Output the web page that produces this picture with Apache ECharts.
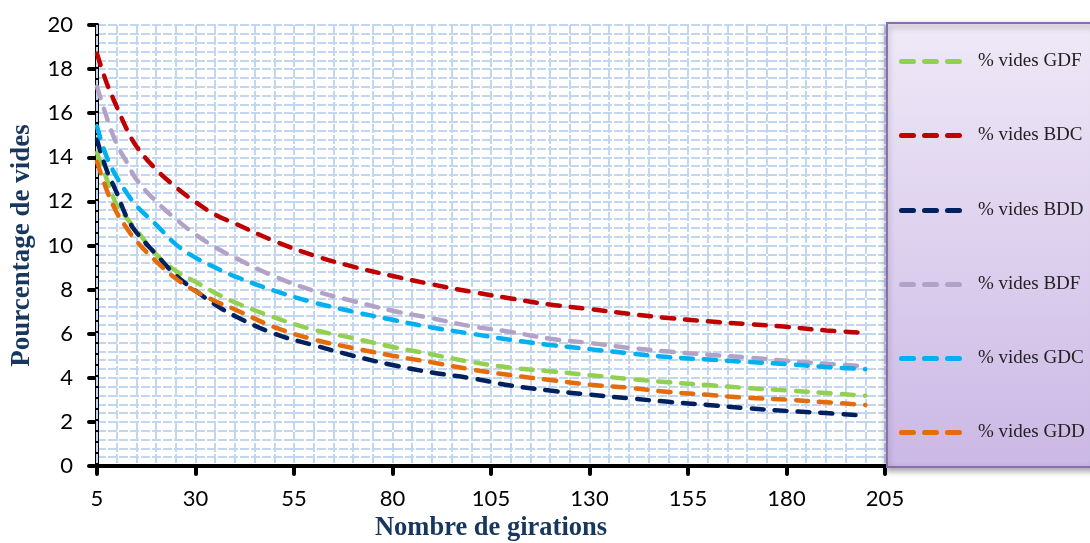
<!DOCTYPE html>
<html>
<head>
<meta charset="utf-8">
<script src="https://cdn.jsdelivr.net/npm/echarts@6/dist/echarts.min.js"></script>
<style>
html,body{margin:0;padding:0;background:#fff;}
#chart{width:1090px;height:543px;}
</style>
</head>
<body>
<div id="chart"></div>
<script>
// Number of gyrations (x values)
const girations = [5, 7.5, 10, 12.5, 15, 20, 25, 30, 35, 40, 50, 60, 70, 80, 90, 100, 110, 120, 130, 140, 150, 160, 170, 180, 190, 200];

// Void percentages
const videsGDF = [14.2, 13.0, 11.85, 11.25, 10.7, 9.6, 8.85, 8.35, 7.85, 7.42, 6.74, 6.18, 5.8, 5.4, 5.06, 4.72, 4.46, 4.3, 4.12, 3.95, 3.8, 3.67, 3.54, 3.43, 3.31, 3.19];
const videsBDC = [18.7, 17.35, 16.3, 15.3, 14.5, 13.45, 12.65, 11.97, 11.4, 11.0, 10.2, 9.55, 9.04, 8.62, 8.24, 7.9, 7.6, 7.32, 7.12, 6.9, 6.71, 6.56, 6.44, 6.31, 6.15, 6.04];
const videsBDD = [14.8, 13.4, 12.4, 11.3, 10.6, 9.6, 8.65, 7.95, 7.32, 6.8, 6.0, 5.48, 5.0, 4.58, 4.24, 3.98, 3.65, 3.42, 3.24, 3.07, 2.91, 2.77, 2.62, 2.5, 2.4, 2.28];
const videsBDF = [17.2, 15.8, 14.6, 13.8, 13.0, 12.0, 11.2, 10.5, 9.92, 9.45, 8.6, 7.95, 7.48, 7.04, 6.7, 6.34, 6.08, 5.77, 5.58, 5.36, 5.19, 5.05, 4.92, 4.77, 4.64, 4.52];
const videsGDC = [15.4, 14.0, 13.1, 12.4, 11.8, 10.95, 10.05, 9.45, 9.0, 8.6, 7.95, 7.42, 7.0, 6.63, 6.28, 6.0, 5.72, 5.49, 5.3, 5.11, 4.94, 4.83, 4.72, 4.62, 4.49, 4.39];
const videsGDD = [13.8, 12.5, 11.5, 10.8, 10.2, 9.28, 8.5, 7.93, 7.48, 7.1, 6.3, 5.74, 5.35, 5.0, 4.7, 4.38, 4.12, 3.9, 3.69, 3.55, 3.36, 3.23, 3.09, 3.01, 2.89, 2.77];

const seriesNames = ['% vides GDF', '% vides BDC', '% vides BDD', '% vides BDF', '% vides GDC', '% vides GDD'];
const seriesValues = [videsGDF, videsBDC, videsBDD, videsBDF, videsGDC, videsGDD];
const seriesColors = ['#92d050', '#c00000', '#002060', '#b3a2c7', '#00b0f0', '#e46c0a'];

const xTickLabels = [5, 30, 55, 80, 105, 130, 155, 180, 205];

const gridLine = { show: true, lineStyle: { color: '#c3d6ef', width: 2, type: [9, 2] } };
const dashIcon = 'path://M2.5,0 L14.5,0 A2.5,2.5 0 0 1 14.5,5 L2.5,5 A2.5,2.5 0 0 1 2.5,0 Z M25.5,0 L37.5,0 A2.5,2.5 0 0 1 37.5,5 L25.5,5 A2.5,2.5 0 0 1 25.5,0 Z M48.5,0 L60.5,0 A2.5,2.5 0 0 1 60.5,5 L48.5,5 A2.5,2.5 0 0 1 48.5,0 Z';
const legendCenters = [60, 134, 209, 283, 357, 431];

const chart = echarts.init(document.getElementById('chart'));
chart.setOption({
  backgroundColor: '#ffffff',
  animation: false,
  graphic: [{
    type: 'rect',
    shape: { x: 887, y: 23, width: 210, height: 444 },
    style: {
      fill: new echarts.graphic.LinearGradient(0, 0, 0, 1, [
        { offset: 0, color: '#efe9f7' },
        { offset: 1, color: '#cbb8e5' }
      ]),
      stroke: '#8a6fb0',
      lineWidth: 2,
      shadowBlur: 6,
      shadowOffsetY: 3,
      shadowColor: 'rgba(0,0,0,0.35)'
    },
    z: 5
  }],
  grid: { left: 97, right: 205, top: 25, bottom: 77, containLabel: false, outerBoundsMode: 'none' },
  legend: seriesNames.map((name, i) => ({
    orient: 'vertical',
    left: 899,
    top: legendCenters[i] - 8,
    padding: 0,
    itemWidth: 63,
    itemHeight: 5,
    icon: dashIcon,
    z: 10,
    textStyle: { fontFamily: 'Liberation Serif', fontSize: 19, color: '#222', padding: [0, 0, 0, 11] },
    data: [name]
  })),
  xAxis: [{
    type: 'value',
    min: 5,
    max: 205,
    interval: 5,
    axisLine: { show: true, lineStyle: { color: '#000', width: 4, cap: 'round' } },
    axisTick: { show: true, customValues: xTickLabels, length: 8, lineStyle: { color: '#000', width: 4, cap: 'round' } },
    axisLabel: { customValues: xTickLabels, margin: 22, color: '#000', fontFamily: 'Lato', fontSize: 22 },
    splitLine: { show: false },
    name: 'Nombre de girations',
    nameLocation: 'middle',
    nameGap: 48,
    nameTextStyle: { fontFamily: 'Liberation Serif', fontWeight: 'bold', fontSize: 26.5, color: '#17375e' },
    z: 3
  }, {
    type: 'value',
    min: 5,
    max: 205,
    interval: 5,
    position: 'bottom',
    axisLine: { show: false },
    axisTick: { show: false },
    axisLabel: { show: false },
    splitLine: gridLine,
    z: 1
  }],
  yAxis: {
    type: 'value',
    min: 0,
    max: 20,
    interval: 2,
    axisLine: { show: true, lineStyle: { color: '#000', width: 4, cap: 'round' } },
    axisTick: { show: true, length: 8, lineStyle: { color: '#000', width: 4, cap: 'round' } },
    axisLabel: { margin: 24, color: '#000', fontFamily: 'Lato', fontSize: 22 },
    minorTick: { show: false, splitNumber: 5 },
    splitLine: gridLine,
    minorSplitLine: gridLine,
    name: 'Pourcentage de vides',
    nameLocation: 'middle',
    nameGap: 61,
    nameTextStyle: { fontFamily: 'Liberation Serif', fontWeight: 'bold', fontSize: 27, color: '#17375e' }
  },
  series: seriesNames.map((name, i) => ({
    name: name,
    type: 'line',
    xAxisIndex: 0,
    smooth: 0.4,
    symbol: 'none',
    color: seriesColors[i],
    lineStyle: { color: seriesColors[i], width: 4.5, type: [12, 11], cap: 'round' },
    data: girations.map((g, j) => [g, seriesValues[i][j]])
  }))
});
</script>
</body>
</html>
